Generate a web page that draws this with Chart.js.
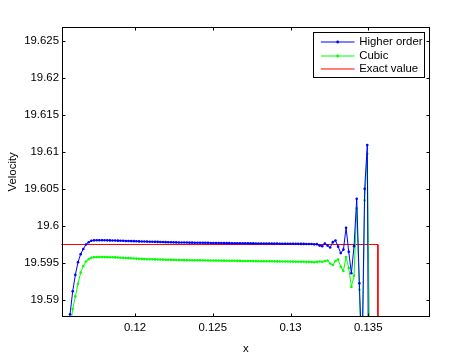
<!DOCTYPE html>
<html>
<head>
<meta charset="utf-8">
<script src="https://cdn.jsdelivr.net/npm/chart.js@4/dist/chart.umd.min.js"></script>
<style>
html,body{margin:0;padding:0;background:#fff;}
canvas{display:block;}
</style>
</head>
<body>
<canvas id="c" width="474" height="356"></canvas>
<script>
// ---------- data ----------
const xValues = [
0.115649,0.115820,0.115991,0.116161,0.116332,0.116503,0.116674,0.116844,0.117015,0.117186,
0.117356,0.117527,0.117698,0.117868,0.118039,0.118210,0.118381,0.118551,0.118722,0.118893,
0.119063,0.119234,0.119405,0.119575,0.119746,0.119917,0.120088,0.120258,0.120429,0.120600,
0.120770,0.120941,0.121112,0.121282,0.121453,0.121624,0.121795,0.121965,0.122136,0.122307,
0.122477,0.122648,0.122819,0.122989,0.123160,0.123331,0.123502,0.123672,0.123843,0.124014,
0.124184,0.124355,0.124526,0.124696,0.124867,0.125038,0.125209,0.125379,0.125550,0.125721,
0.125891,0.126062,0.126233,0.126403,0.126574,0.126745,0.126916,0.127086,0.127257,0.127428,
0.127598,0.127769,0.127940,0.128110,0.128281,0.128452,0.128623,0.128793,0.128964,0.129135,
0.129305,0.129476,0.129647,0.129817,0.129988,0.130159,0.130330,0.130500,0.130671,0.130842,
0.131012,0.131183,0.131354,0.131524,0.131695,0.131866,0.132037,0.132207,0.132378,0.132549,
0.132719,0.132890,0.133061,0.133231,0.133402,0.133573,0.133744,0.133914,0.134085,0.134256,
0.134426,0.134597,0.134768,0.134938,0.135109
];

const higherOrder = [
19.5840,19.5881,19.5912,19.5934,19.5951,19.5962,19.5969,19.5975,19.5978,19.5980,
19.59806,19.59808,19.59808,19.59808,19.59807,19.59806,19.59805,19.59804,19.59803,19.59802,
19.59801,19.59800,19.59798,19.59797,19.59796,19.59795,19.59794,19.59792,19.59791,19.59790,
19.59789,19.59788,19.59787,19.59786,19.59785,19.59784,19.59783,19.59782,19.59781,19.59780,
19.59779,19.59778,19.59777,19.59777,19.59776,19.59776,19.59775,19.59775,19.59774,19.59774,
19.59773,19.59773,19.59772,19.59772,19.59771,19.59771,19.59770,19.59770,19.59769,19.59769,
19.59768,19.59768,19.59767,19.59767,19.59767,19.59766,19.59766,19.59766,19.59765,19.59765,
19.59765,19.59764,19.59764,19.59764,19.59763,19.59763,19.59763,19.59762,19.59762,19.59762,
19.59761,19.59761,19.59761,19.59760,19.59760,19.59760,19.59759,19.59759,19.59758,19.59758,
19.59757,19.59757,19.59756,19.59752,19.59755,19.59735,19.59728,19.59764,19.59735,19.59710,
19.59782,19.59804,19.59721,19.59634,19.59681,19.59976,19.59651,19.59362,19.59728,19.60367,
19.59228,19.5820,19.60501,19.61091,19.5364
];

const cubic = [
19.5780,19.5860,19.5888,19.5905,19.5922,19.5937,19.5946,19.5952,19.5955,19.5957,
19.59577,19.59580,19.59581,19.59581,19.59580,19.59579,19.59578,19.59577,19.59576,19.59574,
19.59572,19.59570,19.59568,19.59566,19.59564,19.59562,19.59560,19.59558,19.59556,19.59554,
19.59552,19.59551,19.59550,19.59549,19.59548,19.59547,19.59546,19.59545,19.59544,19.59543,
19.59542,19.59541,19.59540,19.59540,19.59539,19.59539,19.59538,19.59538,19.59537,19.59537,
19.59536,19.59536,19.59535,19.59535,19.59534,19.59534,19.59533,19.59533,19.59532,19.59532,
19.59531,19.59531,19.59530,19.59530,19.59529,19.59529,19.59528,19.59528,19.59527,19.59527,
19.59526,19.59526,19.59525,19.59525,19.59524,19.59524,19.59523,19.59523,19.59522,19.59522,
19.59521,19.59521,19.59520,19.59520,19.59519,19.59519,19.59518,19.59518,19.59517,19.59517,
19.59516,19.59516,19.59514,19.59510,19.59515,19.59520,19.59517,19.59527,19.59534,19.59493,
19.59473,19.59527,19.59547,19.59450,19.59393,19.59580,19.59433,19.59178,19.59330,19.60237,
19.59139,19.57932,19.60345,19.60975,19.57932
];

const exactX = [0.1150, 0.13562, 0.13562];
const exactY = [19.5975, 19.5975, 19.5000];

const seriesLabels = ['Higher order', 'Cubic', 'Exact value'];
const seriesColors = ['#0000ff', '#00ff00', '#ff0000'];

const xTicks = [0.12, 0.125, 0.13, 0.135];
const xTickLabels = ['0.12', '0.125', '0.13', '0.135'];
const yTicks = [19.59, 19.595, 19.6, 19.605, 19.61, 19.615, 19.62, 19.625];
const yTickLabels = ['19.59', '19.595', '19.6', '19.605', '19.61', '19.615', '19.62', '19.625'];

const xRange = [0.11527, 0.13897];
const yRange = [19.58776, 19.62684];

// ---------- chart ----------
const FONT_FAMILY = '"Liberation Sans", Arial, Helvetica, sans-serif';
const FONT_SIZE = 11.4;

function pts(xs, ys) { return xs.map((x, i) => ({ x: x, y: ys[i] })); }

const frameAndLegend = {
  id: 'frameAndLegend',
  afterDraw(chart) {
    const ctx = chart.ctx;
    const a = chart.chartArea;
    const xs = chart.scales.x, ys = chart.scales.y;
    ctx.save();
    ctx.strokeStyle = '#000';
    ctx.lineWidth = 1;
    const L = Math.round(a.left) + 0.5, R = Math.round(a.right) - 0.5;
    const T = Math.round(a.top) + 0.5, B = Math.round(a.bottom) - 0.5;
    ctx.strokeRect(L, T, R - L, B - T);
    const tl = 3;
    ctx.beginPath();
    xTicks.forEach(v => {
      const p = Math.round(xs.getPixelForValue(v)) + 0.5;
      ctx.moveTo(p, B); ctx.lineTo(p, B - tl);
      ctx.moveTo(p, T); ctx.lineTo(p, T + tl);
    });
    yTicks.forEach(v => {
      const p = Math.round(ys.getPixelForValue(v)) + 0.5;
      ctx.moveTo(L, p); ctx.lineTo(L + tl, p);
      ctx.moveTo(R, p); ctx.lineTo(R - tl, p);
    });
    ctx.stroke();

    // legend box
    const ds = chart.data.datasets;
    ctx.font = FONT_SIZE + 'px ' + FONT_FAMILY;
    const textW = Math.max(...ds.map(d => ctx.measureText(d.label).width));
    const padL = 7.4, sample = 33.6, gap = 4.7, padR = 2.3;
    const boxW = padL + sample + gap + textW + padR;
    const boxR = Math.round(a.right - 6) + 0.5;
    const boxL = Math.round(boxR - boxW) + 0.5;
    const boxT = Math.round(a.top + 5) + 0.5;
    const rowH = 13.5;
    const boxH = 45;
    ctx.fillStyle = '#fff';
    ctx.fillRect(boxL, boxT, boxR - boxL, boxH);
    ctx.strokeStyle = '#000';
    ctx.strokeRect(boxL, boxT, boxR - boxL, boxH);
    ds.forEach((d, i) => {
      const col = seriesColors[i];
      const cy = Math.round(boxT + 9.8 + i * rowH);
      const x0 = boxL + padL;
      ctx.strokeStyle = col;
      ctx.lineWidth = 1.2;
      ctx.beginPath();
      ctx.moveTo(x0, cy); ctx.lineTo(x0 + sample, cy);
      ctx.stroke();
      if (i < 2) {
        ctx.fillStyle = col;
        ctx.beginPath();
        ctx.arc(x0 + sample / 2, cy, 1.4, 0, Math.PI * 2);
        ctx.fill();
      }
      ctx.fillStyle = '#000';
      ctx.textBaseline = 'middle';
      ctx.textAlign = 'left';
      ctx.fillText(d.label, x0 + sample + gap, cy);
    });
    ctx.restore();
  }
};

new Chart(document.getElementById('c'), {
  type: 'scatter',
  data: {
    datasets: [
      { label: seriesLabels[0], data: pts(xValues, higherOrder), showLine: true,
        borderColor: seriesColors[0], backgroundColor: seriesColors[0], borderWidth: 1,
        pointRadius: 1.3, pointBorderWidth: 0, pointBackgroundColor: seriesColors[0] },
      { label: seriesLabels[1], data: pts(xValues, cubic), showLine: true,
        borderColor: seriesColors[1], backgroundColor: seriesColors[1], borderWidth: 1,
        pointRadius: 1.3, pointBorderWidth: 0, pointBackgroundColor: seriesColors[1] },
      { label: seriesLabels[2], data: pts(exactX, exactY), showLine: true,
        borderColor: seriesColors[2], backgroundColor: seriesColors[2], borderWidth: 1,
        pointRadius: 0 }
    ]
  },
  options: {
    responsive: false,
    animation: false,
    devicePixelRatio: 1,
    layout: { padding: { top: 27, right: 44, left: 0, bottom: 0 } },
    plugins: { legend: { display: false }, tooltip: { enabled: false } },
    scales: {
      x: {
        type: 'linear', min: xRange[0], max: xRange[1],
        afterBuildTicks: s => { s.ticks = xTicks.map(v => ({ value: v })); },
        afterFit: s => { s.height = 39.3; },
        grid: { display: false, drawTicks: false },
        border: { display: false },
        ticks: { padding: 4.5, color: '#000', maxRotation: 0, autoSkip: false,
          font: { family: FONT_FAMILY, size: FONT_SIZE },
          callback: v => { const i = xTicks.findIndex(t => Math.abs(t - v) < 1e-9); return i >= 0 ? xTickLabels[i] : ''; } },
        title: { display: true, text: 'x', color: '#000', padding: { top: 4, bottom: 0 },
          font: { family: FONT_FAMILY, size: FONT_SIZE } }
      },
      y: {
        type: 'linear', min: yRange[0], max: yRange[1],
        afterBuildTicks: s => { s.ticks = yTicks.map(v => ({ value: v })); },
        afterFit: s => { s.width = 61.5; },
        grid: { display: false, drawTicks: false },
        border: { display: false },
        ticks: { padding: 2.5, color: '#000', autoSkip: false,
          font: { family: FONT_FAMILY, size: FONT_SIZE },
          callback: v => { const i = yTicks.findIndex(t => Math.abs(t - v) < 1e-9); return i >= 0 ? yTickLabels[i] : ''; } },
        title: { display: true, text: 'Velocity', color: '#000', padding: { top: 6, bottom: 0 },
          font: { family: FONT_FAMILY, size: FONT_SIZE } }
      }
    }
  },
  plugins: [frameAndLegend]
});
</script>
</body>
</html>
